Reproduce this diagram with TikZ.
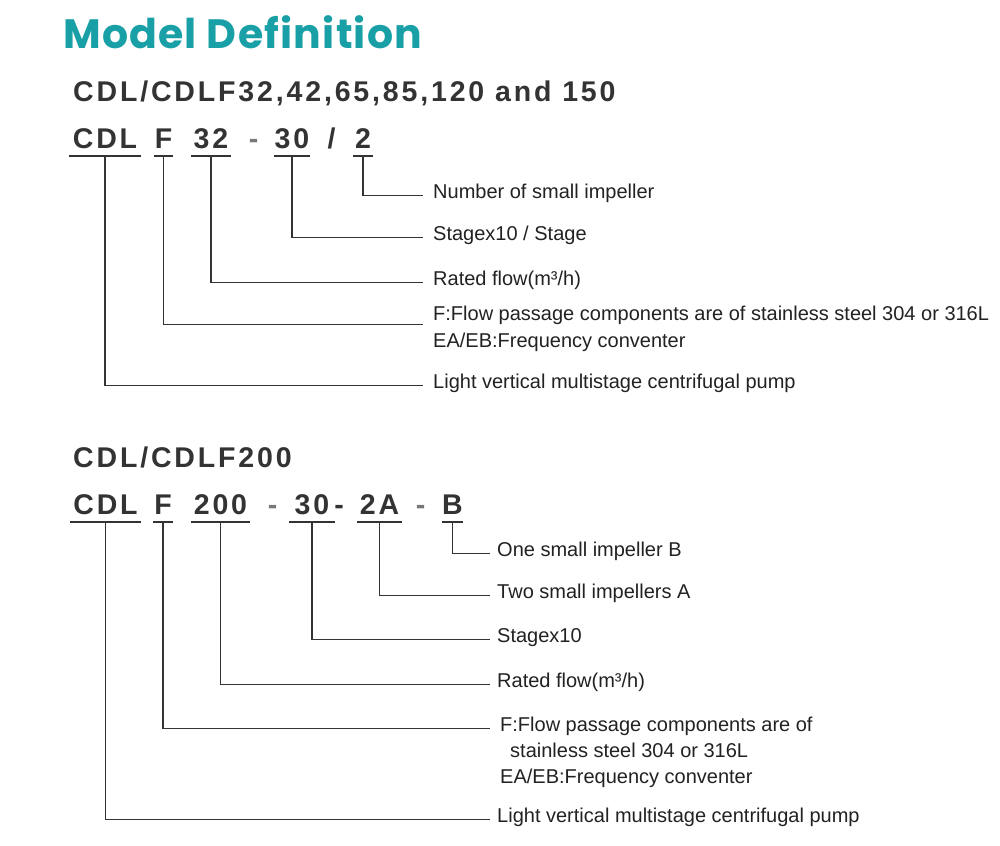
\documentclass[tikz,border=0pt]{standalone}
\usepackage{fontspec}
\setmainfont{Liberation Sans}
\newfontfamily\codefont[LetterSpace=10]{Liberation Sans}
\newfontfamily\labfont{Liberation Sans}
\newfontfamily\titlefont[LetterSpace=3]{Poppins}
\definecolor{teal1}{RGB}{24,160,166}
\definecolor{codegray}{RGB}{51,51,51}
\definecolor{labgray}{RGB}{34,34,34}
\definecolor{dashgray}{RGB}{120,120,120}
\begin{document}
\begin{tikzpicture}[x=1pt,y=-1pt,
  codeseg/.style={font=\codefont\bfseries\fontsize{28.5}{30}\selectfont, text=codegray, inner sep=0pt, text depth=7pt, anchor=base},
  codedash/.style={font=\codefont\bfseries\fontsize{28.5}{30}\selectfont, text=dashgray, inner sep=0pt, anchor=base},
  subtitle/.style={font=\codefont\bfseries\fontsize{28.5}{30}\selectfont, text=codegray, inner sep=0pt, anchor=base west},
  lab/.style={font=\labfont\fontsize{20}{24}\selectfont, text=labgray, inner ysep=0pt, anchor=base west},
  uline/.style={draw=codegray, line width=1.6pt},
  conn/.style={draw=codegray, line width=1.2pt}
]
\fill[white] (0,0) rectangle (1000,845);
\useasboundingbox (0,0) rectangle (1000,845);

% title
\node[font=\titlefont\bfseries\fontsize{41}{44}\selectfont, text=teal1, inner sep=0pt, anchor=base west] (title) at (63,49) {Model Definition};

% ---------- section 1 ----------
\node[subtitle] (sub1) at (73,102) {CDL/CDLF32,42,65,85,120 and 150};

\node[codeseg, minimum width=72pt] (cdlA) at (105,149) {CDL};
\node[codeseg, minimum width=19pt] (fA) at (163.5,149) {F};
\node[codeseg, minimum width=40pt] (qA) at (211,149) {32};
\node[codedash] (dA) at (253.5,149) {-};
\node[codeseg, minimum width=36pt] (sA) at (292,149) {30};
\node[codeseg, text depth=0pt] (slA) at (331.5,149) {/};
\node[codeseg, minimum width=20pt] (nA) at (363,149) {2};

\foreach \n in {cdlA,fA,qA,sA,nA}
  \draw[uline] (\n.south west) -- (\n.south east);

\node[lab, inner xsep=10pt] (l1n) at (423,198) {Number of small impeller};
\node[lab, inner xsep=10pt] (l1s) at (423,240) {Stagex10 / Stage};
\node[lab, inner xsep=10pt] (l1r) at (423,285) {Rated flow(m³/h)};
\node[lab, inner xsep=10pt] (l1f) at (423,320) {F:Flow passage components are of stainless steel 304 or 316L};
\node[lab, inner xsep=10pt] (l1e) at (423,347) {EA/EB:Frequency conventer};
\node[lab, inner xsep=10pt] (l1l) at (423,388) {Light vertical multistage centrifugal pump};

\draw[conn] (nA.south) |- (l1n.mid west);
\draw[conn] (sA.south) |- (l1s.mid west);
\draw[conn] (qA.south) |- (l1r.mid west);
\draw[conn] (fA.south) |- (l1f.south west);
\draw[conn] (cdlA.south) |- (l1l.mid west);

% ---------- section 2 ----------
\node[subtitle] (sub2) at (73,467) {CDL/CDLF200};

\node[codeseg, text depth=7.5pt, minimum width=71pt] (cdlB) at (105.5,514) {CDL};
\node[codeseg, text depth=7.5pt, minimum width=20pt] (fB) at (163,514) {F};
\node[codeseg, text depth=7.5pt, minimum width=59pt] (tB) at (220.5,514) {200};
\node[codedash] (dB1) at (272.5,514) {-};
\node[codeseg, text depth=7.5pt, minimum width=46pt] (sB) at (312,514) {30};
\node[codeseg, text depth=0pt] (dB2) at (339,514) {-};
\node[codeseg, text depth=7.5pt, minimum width=45pt] (aB) at (379.5,514) {2A};
\node[codedash] (dB3) at (420.5,514) {-};
\node[codeseg, text depth=7.5pt, minimum width=19pt] (bB) at (452.5,514) {B};

\foreach \n in {cdlB,fB,tB,sB,aB,bB}
  \draw[uline] (\n.south west) -- (\n.south east);

\node[lab, inner xsep=7pt] (l2b) at (490,556) {One small impeller B};
\node[lab, inner xsep=7pt] (l2a) at (490,598) {Two small impellers A};
\node[lab, inner xsep=7pt] (l2s) at (490,642) {Stagex10};
\node[lab, inner xsep=7pt] (l2r) at (490,687) {Rated flow(m³/h)};
\node[lab, inner xsep=10pt] (l2f) at (490,731) {F:Flow passage components are of};
\node[lab, inner xsep=0pt] (l2g) at (510,757) {stainless steel 304 or 316L};
\node[lab, inner xsep=0pt] (l2e) at (500,783) {EA/EB:Frequency conventer};
\node[lab, inner xsep=7pt] (l2l) at (490,822) {Light vertical multistage centrifugal pump};

\draw[conn] (bB.south) |- (l2b.mid west);
\draw[conn] (aB.south) |- (l2a.mid west);
\draw[conn] (sB.south) |- (l2s.mid west);
\draw[conn] (tB.south) |- (l2r.mid west);
\draw[conn] (fB.south) |- (l2f.mid west);
\draw[conn] (cdlB.south) |- (l2l.mid west);
\end{tikzpicture}
\end{document}
